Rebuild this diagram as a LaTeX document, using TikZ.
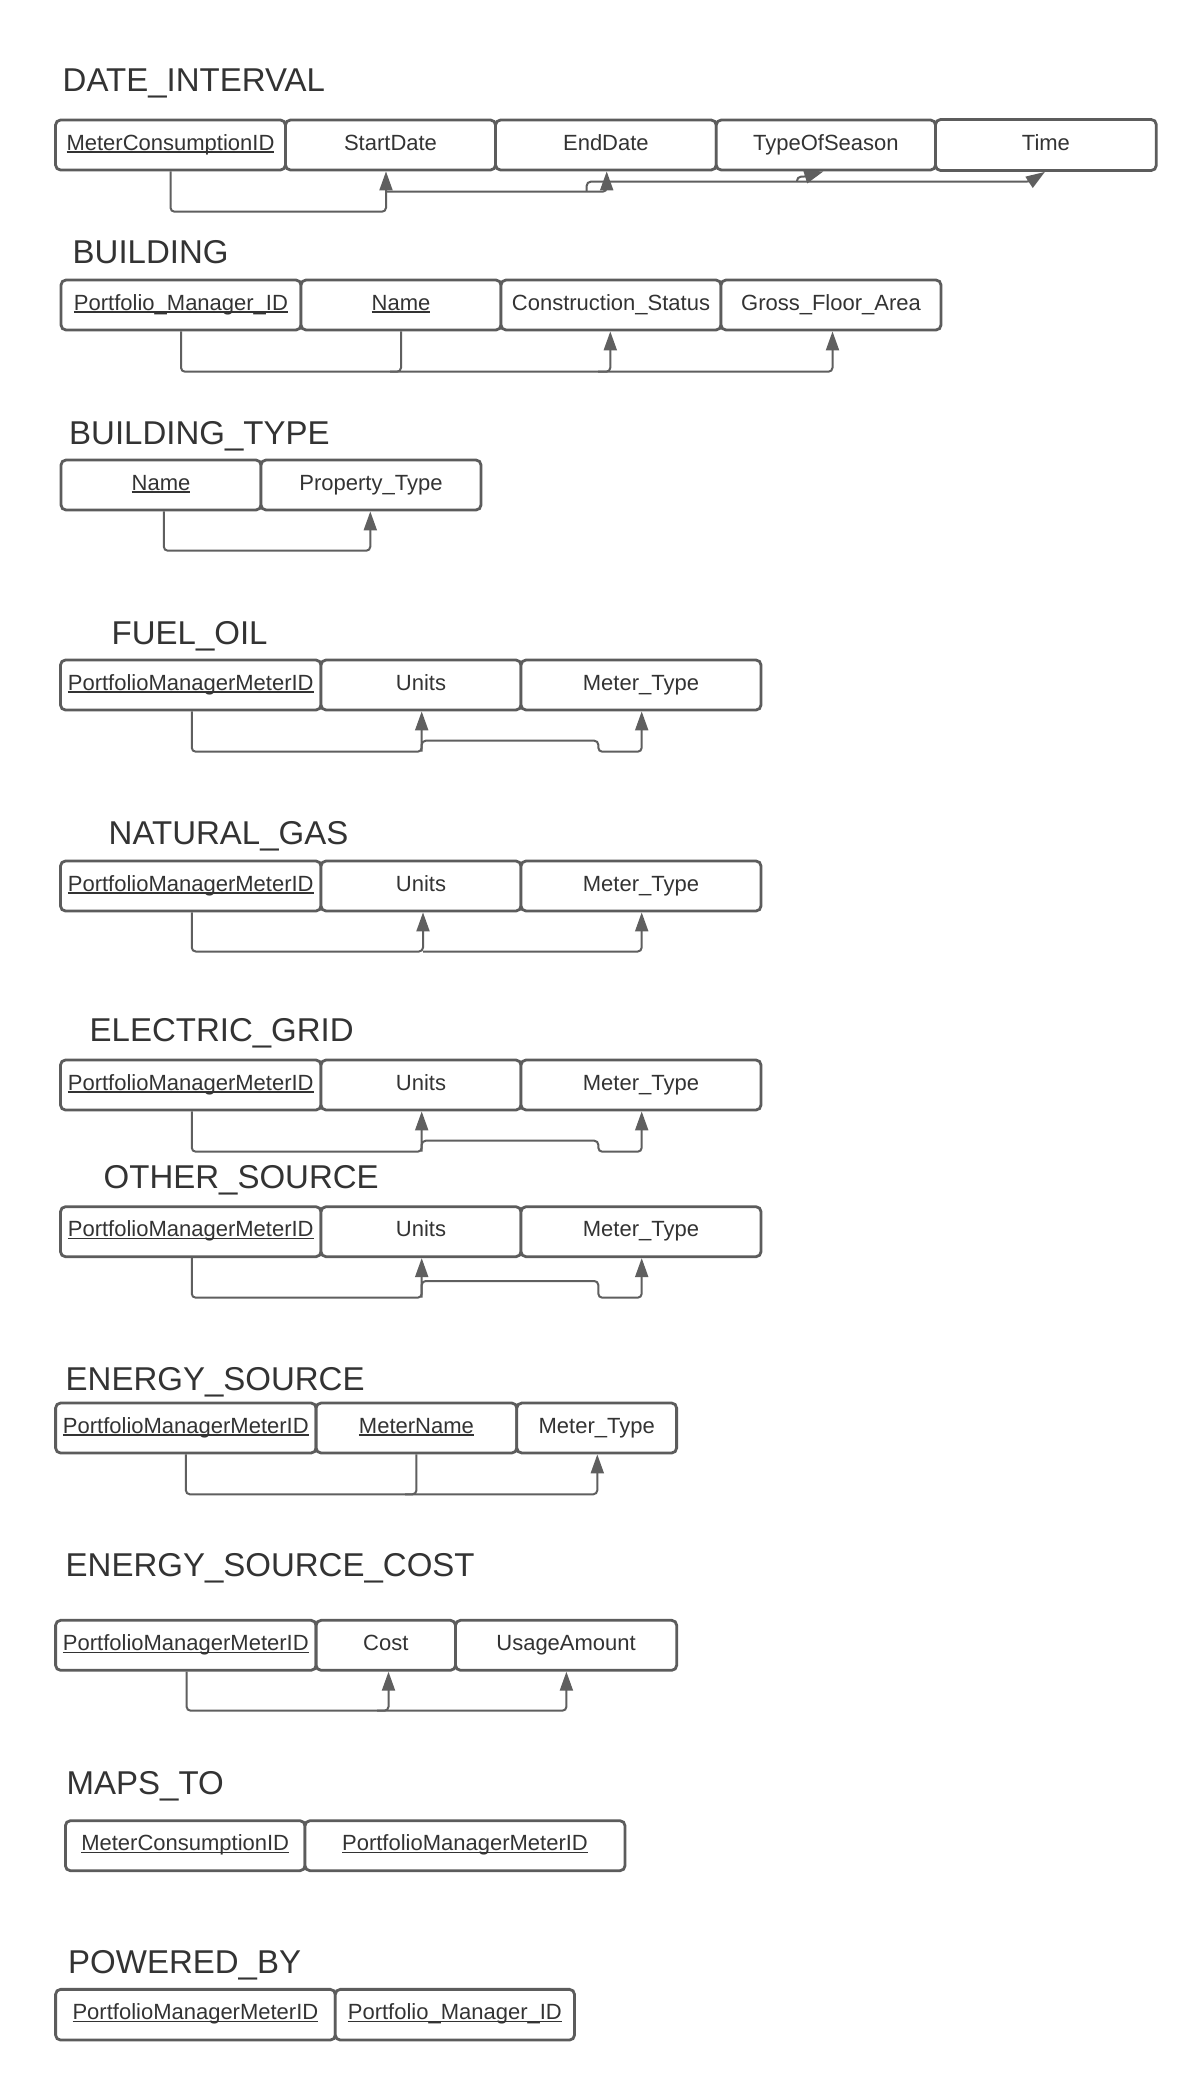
\documentclass[tikz,border=0pt]{standalone}
\usepackage{fontspec}
\setmainfont{Liberation Sans}
\usetikzlibrary{arrows.meta}
\definecolor{txt}{HTML}{333333}
\definecolor{edgegray}{HTML}{5C5C5C}
\definecolor{wire}{HTML}{5F5F5F}
\newsavebox\pkbox
\newcommand\pkey[1]{\sbox\pkbox{#1}\rlap{\rule[-2.6pt]{\wd\pkbox}{1.3pt}}\usebox\pkbox}
\newcommand\attrfont{\fontsize{22}{26}\selectfont}
\newcommand\titlefont{\fontsize{33}{38}\selectfont}
\begin{document}
\begin{tikzpicture}[x=1pt,y=-1pt,
  attr/.style={draw=edgegray, line width=2.8pt, rounded corners=5pt, fill=white, text=txt,
    font=\attrfont, inner sep=0pt, minimum height=50pt, text height=15.75pt, text depth=5.75pt},
  ttl/.style={anchor=base west, inner sep=0pt, text=txt, font=\titlefont},
  conn/.style={draw=wire, line width=2pt, rounded corners=4pt},
  arr/.style={conn, -{Triangle[length=19pt,width=13pt]}}]
\useasboundingbox[fill=white] (0,0) rectangle (1184,2073);

% ---------------- DATE_INTERVAL
\node[ttl] (t1) at (62.5,91.7) {DATE\_INTERVAL};
\node[attr, minimum width=229.9pt] (dmcid) at (170.5,145) {\pkey{MeterConsumptionID}};
\node[attr, minimum width=210.1pt] (dstart) at (390.5,145) {StartDate};
\node[attr, minimum width=220.7pt] (dend) at (605.9,145) {EndDate};
\node[attr, minimum width=219.3pt] (dseason) at (825.9,145) {TypeOfSeason};
\node[attr, minimum width=220.7pt, minimum height=51pt] (dtime) at (1045.9,145) {Time};
\draw[arr] (dmcid.south) |- (386,211.7) -- ([xshift=-4.5pt]dstart.south);
\draw[arr] (386,191.7) -- (606.7,191.7) -- ([xshift=0.8pt]dend.south);
\draw[arr] (586.7,191.7) |- (1030,181.7) -- ([xshift=-1pt]dtime.south);
\draw[arr] (797,181.7) |- (806,176.7) -- ([xshift=-2.5pt]dseason.south);

% ---------------- BUILDING
\node[ttl] (t2) at (72.5,263.3) {BUILDING};
\node[attr, minimum width=240pt] (bpmid) at (181,305) {\pkey{Portfolio\_Manager\_ID}};
\node[attr, minimum width=200pt] (bname) at (401,305) {\pkey{Name}};
\node[attr, minimum width=220pt] (bcons) at (611,305) {Construction\_Status};
\node[attr, minimum width=220pt] (bgfa) at (831,305) {Gross\_Floor\_Area};
\draw[arr] (bpmid.south) |- (832.5,371.7) -- ([xshift=1.5pt]bgfa.south);
\draw[conn] (bname.south) |- (390,371.7);
\draw[arr] (598,371.7) -| ([xshift=-0.7pt]bcons.south);

% ---------------- BUILDING_TYPE
\node[ttl] (t3) at (69,444) {BUILDING\_TYPE};
\node[attr, minimum width=200pt] (btname) at (161,485) {\pkey{Name}};
\node[attr, minimum width=220pt] (btptype) at (371,485) {Property\_Type};
\draw[arr] ([xshift=2.8pt]btname.south) |- (370.3,550.7) -- ([xshift=-0.7pt]btptype.south);

% ---------------- FUEL_OIL
\node[ttl] (t4) at (111.5,644.3) {FUEL\_OIL};
\node[attr, minimum width=260.5pt] (fpm) at (190.75,685) {\pkey{PortfolioManagerMeterID}};
\node[attr, minimum width=200pt] (funits) at (421,685) {Units};
\node[attr, minimum width=240pt] (fmtype) at (641,685) {Meter\_Type};
\draw[arr] ([xshift=1pt]fpm.south) |- (421.7,751.7) -- ([xshift=0.7pt]funits.south);
\draw[arr] (421.7,751.7) |- (598.3,740.7) |- (641.7,751.7) -- ([xshift=0.7pt]fmtype.south);

% ---------------- NATURAL_GAS
\node[ttl] (t5) at (108.5,844) {NATURAL\_GAS};
\node[attr, minimum width=260.5pt] (npm) at (190.75,886) {\pkey{PortfolioManagerMeterID}};
\node[attr, minimum width=200pt] (nunits) at (421,886) {Units};
\node[attr, minimum width=240pt] (nmtype) at (641,886) {Meter\_Type};
\draw[arr] ([xshift=1pt]npm.south) |- (423,951.5) -- ([xshift=2pt]nunits.south);
\draw[arr] (423,951.5) -| ([xshift=0.7pt]nmtype.south);

% ---------------- ELECTRIC_GRID
\node[ttl] (t6) at (89.5,1041.7) {ELECTRIC\_GRID};
\node[attr, minimum width=260.5pt] (epm1) at (190.75,1085) {\pkey{PortfolioManagerMeterID}};
\node[attr, minimum width=200pt] (eunits) at (421,1085) {Units};
\node[attr, minimum width=240pt] (emtype1) at (641,1085) {Meter\_Type};
\draw[arr] ([xshift=1pt]epm1.south) |- (421.7,1151.7) -- ([xshift=0.7pt]eunits.south);
\draw[arr] (421.7,1151.7) |- (598.3,1140.7) |- (641.7,1151.7) -- ([xshift=0.7pt]emtype1.south);

% ---------------- OTHER_SOURCE
\node[ttl] (t7) at (103.5,1188.3) {OTHER\_SOURCE};
\node[attr, minimum width=260.5pt] (opm) at (190.75,1231.7) {\pkey{PortfolioManagerMeterID}};
\node[attr, minimum width=200pt] (ounits) at (421,1231.7) {Units};
\node[attr, minimum width=240pt] (omtype) at (641,1231.7) {Meter\_Type};
\draw[arr] ([xshift=1pt]opm.south) |- (421.7,1297.7) -- ([xshift=0.7pt]ounits.south);
\draw[arr] (421.7,1297.7) |- (598.3,1281) |- (641.7,1297.7) -- ([xshift=0.7pt]omtype.south);

% ---------------- ENERGY_SOURCE
\node[ttl] (t8) at (65.5,1390.7) {ENERGY\_SOURCE};
\node[attr, minimum width=260.5pt] (espm) at (185.85,1428) {\pkey{PortfolioManagerMeterID}};
\node[attr, minimum width=200.7pt] (esname) at (416.45,1428) {\pkey{MeterName}};
\node[attr, minimum width=159.8pt] (esmtype) at (596.7,1428) {Meter\_Type};
\draw[arr] (espm.south) |- (597.3,1494.3) -- ([xshift=0.6pt]esmtype.south);
\draw[conn] (esname.south) |- (405,1494.3);

% ---------------- ENERGY_SOURCE_COST
\node[ttl] (t9) at (65.5,1576.7) {ENERGY\_SOURCE\_COST};
\node[attr, minimum width=260.5pt] (cpm) at (185.85,1645.3) {\pkey{PortfolioManagerMeterID}};
\node[attr, minimum width=139.4pt] (ccost) at (385.8,1645.3) {Cost};
\node[attr, minimum width=221.2pt] (cusage) at (566.1,1645.3) {UsageAmount};
\draw[arr] ([xshift=0.75pt]cpm.south) |- (566.4,1710.7) -- ([xshift=0.3pt]cusage.south);
\draw[arr] (377,1710.7) -| ([xshift=2.7pt]ccost.south);

% ---------------- MAPS_TO
\node[ttl] (t10) at (66.5,1794.3) {MAPS\_TO};
\node[attr, minimum width=239.6pt] (mmcid) at (185.2,1845.7) {\pkey{MeterConsumptionID}};
\node[attr, minimum width=320pt] (mpm) at (465,1845.7) {\pkey{PortfolioManagerMeterID}};

% ---------------- POWERED_BY
\node[ttl] (t11) at (68,1973.3) {POWERED\_BY};
\node[attr, minimum width=279.7pt, minimum height=50.7pt] (ppm) at (195.45,2014.7) {\pkey{PortfolioManagerMeterID}};
\node[attr, minimum width=239.2pt, minimum height=50.7pt] (ppid) at (454.9,2014.7) {\pkey{Portfolio\_Manager\_ID}};
\end{tikzpicture}
\end{document}
